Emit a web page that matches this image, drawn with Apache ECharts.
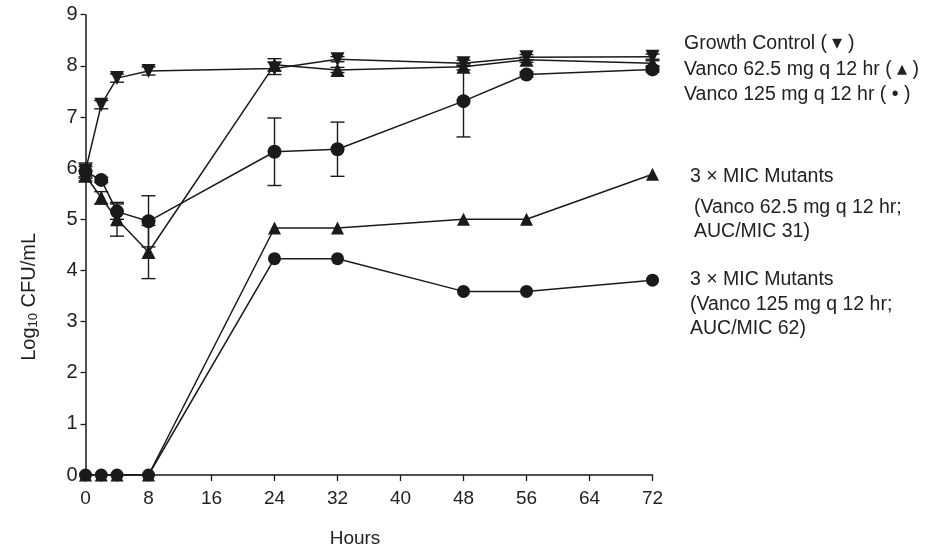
<!DOCTYPE html>
<html>
<head>
<meta charset="utf-8">
<script src="https://cdn.jsdelivr.net/npm/echarts@6/dist/echarts.min.js"></script>
<style>html,body{margin:0;padding:0;background:#fff;}#c{width:934px;height:553px;}</style>
</head>
<body>
<div id="c"></div>
<script>
const hours = [0, 2, 4, 8, 24, 32, 48, 56, 72];
const xTicks = [0, 8, 16, 24, 32, 40, 48, 56, 64, 72];
const yTicks = [0, 1, 2, 3, 4, 5, 6, 7, 8, 9];

const growthControl = [5.95, 7.24, 7.76, 7.90, 7.95, 8.13, 8.05, 8.17, 8.18];
const growthSD      = [0.15, 0.08, 0.08, 0.08, 0.12, 0.05, 0.06, 0.05, 0.05];
const vanco625      = [5.85, 5.42, 5.00, 4.36, 8.02, 7.92, 7.98, 8.12, 8.05];
const vanco625SD    = [0.10, 0.12, 0.33, 0.52, 0.12, 0.05, 0.06, 0.05, 0.05];
const vanco125      = [5.93, 5.77, 5.15, 4.96, 6.32, 6.37, 7.31, 7.83, 7.93];
const vanco125SD    = [0.10, 0.05, 0.15, 0.50, 0.66, 0.53, 0.70, 0.05, 0.05];
const mutants625    = [0, 0, 0, 0, 4.83, 4.83, 5.00, 5.00, 5.88];
const mutants125    = [0, 0, 0, 0, 4.23, 4.23, 3.59, 3.59, 3.81];

const labelLines = [
  {text: 'Growth Control ( ▾ )', x: 684, y: 44},
  {text: 'Vanco 62.5 mg q 12 hr ( ▴ )', x: 684, y: 70},
  {text: 'Vanco 125 mg q 12 hr ( • )', x: 684, y: 95},
  {text: '3 × MIC Mutants', x: 690, y: 177},
  {text: '(Vanco 62.5 mg q 12 hr;', x: 694, y: 208},
  {text: 'AUC/MIC 31)', x: 694, y: 232},
  {text: '3 × MIC Mutants', x: 690, y: 280},
  {text: '(Vanco 125 mg q 12 hr;', x: 690, y: 305},
  {text: 'AUC/MIC 62)', x: 690, y: 329}
];

const INK = '#1a1a1a';
const FONT = '"Liberation Sans", Arial, sans-serif';

function pairs(ys) { return hours.map((h, i) => [h, ys[i]]); }
function errData(ys, sd) { return hours.map((h, i) => [h, ys[i] - sd[i], ys[i] + sd[i]]); }

function errSeries(ys, sd) {
  return {
    type: 'custom',
    data: errData(ys, sd),
    z: 2,
    silent: true,
    renderItem: function (params, api) {
      const x = api.value(0);
      const lo = api.coord([x, api.value(1)]);
      const hi = api.coord([x, api.value(2)]);
      const w = 7;
      const st = {stroke: INK, lineWidth: 1.4};
      return {
        type: 'group',
        children: [
          {type: 'line', shape: {x1: lo[0], y1: lo[1], x2: hi[0], y2: hi[1]}, style: st},
          {type: 'line', shape: {x1: lo[0] - w, y1: lo[1], x2: lo[0] + w, y2: lo[1]}, style: st},
          {type: 'line', shape: {x1: hi[0] - w, y1: hi[1], x2: hi[0] + w, y2: hi[1]}, style: st}
        ]
      };
    }
  };
}

function lineSeries(name, ys, symbol, size, rotate) {
  return {
    name: name,
    type: 'line',
    data: pairs(ys),
    symbol: symbol,
    symbolSize: size,
    symbolRotate: rotate || 0,
    showAllSymbol: true,
    z: 3,
    lineStyle: {color: INK, width: 1.5},
    itemStyle: {color: INK, borderWidth: 0},
    animation: false
  };
}

const chart = echarts.init(document.getElementById('c'));
chart.setOption({
  backgroundColor: '#ffffff',
  animation: false,
  grid: {left: 85.5, right: 281.5, top: 14.7, bottom: 75},
  xAxis: {
    type: 'value',
    min: 0, max: 72, interval: 8,
    name: 'Hours',
    nameLocation: 'middle',
    nameGap: 54,
    nameTextStyle: {fontFamily: FONT, fontSize: 19, color: '#222', padding: [0, 28, 0, 0]},
    axisLine: {lineStyle: {color: INK, width: 1.5}},
    axisTick: {show: true, length: 6, lineStyle: {color: INK, width: 1.3}},
    axisLabel: {fontFamily: FONT, fontSize: 19, color: '#222', margin: 14,
      customValues: xTicks},
    splitLine: {show: false}
  },
  yAxis: {
    type: 'value',
    min: 0, max: 9, interval: 1,
    name: 'Log{s|10} CFU/mL',
    nameLocation: 'middle',
    nameGap: 46,
    nameTextStyle: {fontFamily: FONT, fontSize: 20, color: '#222', padding: [0, 104, 0, 0],
      rich: {s: {fontFamily: FONT, fontSize: 13, color: '#222', verticalAlign: 'bottom', padding: [8, 0, 0, 0]}}},
    axisLine: {lineStyle: {color: INK, width: 1.5}},
    axisTick: {show: true, length: 5, lineStyle: {color: INK, width: 1.3}},
    axisLabel: {fontFamily: FONT, fontSize: 20, color: '#222', margin: 8,
      customValues: yTicks},
    splitLine: {show: false}
  },
  series: [
    errSeries(growthControl, growthSD),
    errSeries(vanco625, vanco625SD),
    errSeries(vanco125, vanco125SD),
    lineSeries('3 × MIC Mutants (62.5)', mutants625, 'triangle', 13),
    lineSeries('3 × MIC Mutants (125)', mutants125, 'circle', 13),
    lineSeries('Vanco 125 mg q 12 hr', vanco125, 'circle', 14),
    lineSeries('Vanco 62.5 mg q 12 hr', vanco625, 'triangle', 14),
    lineSeries('Growth Control', growthControl, 'triangle', 14, 180)
  ],
  graphic: labelLines.map(l => ({
    type: 'text',
    x: l.x,
    y: l.y,
    style: {text: l.text, fontFamily: FONT, fontSize: 19.5, fill: '#222', verticalAlign: 'middle', align: 'left'}
  }))
});
</script>
</body>
</html>
